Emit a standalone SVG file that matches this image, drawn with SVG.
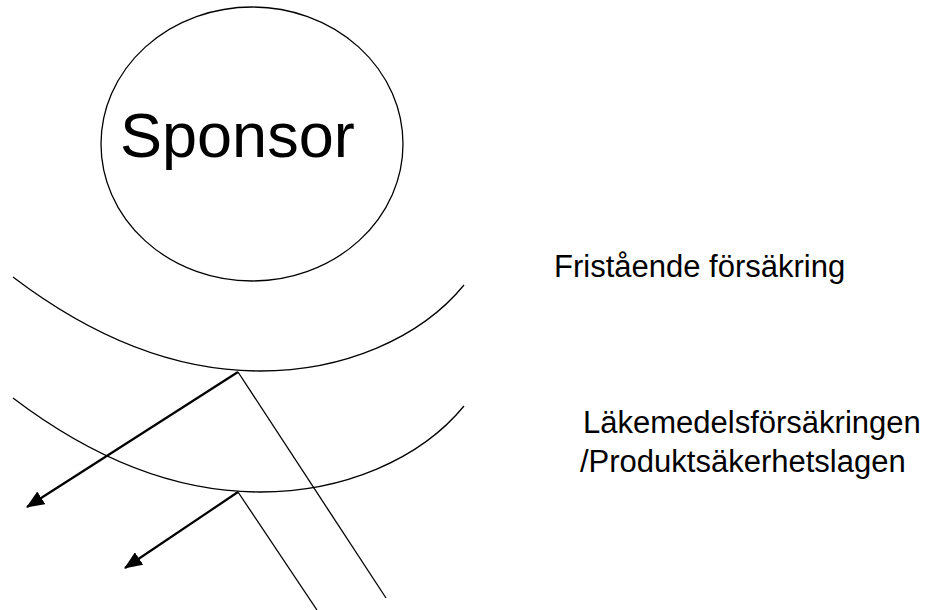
<svg xmlns="http://www.w3.org/2000/svg" width="932" height="610" viewBox="0 0 932 610">
<defs>
<style>
.ln{fill:none;stroke:#000;stroke-width:1.3}
.ar{fill:none;stroke:#000;stroke-width:2.2}
.t{font-family:"Liberation Sans",Arial,sans-serif;fill:#000}
</style>
<marker id="ah" viewBox="0 0 18 15" refX="17" refY="7.5" markerWidth="18" markerHeight="15" markerUnits="userSpaceOnUse" orient="auto">
<path d="M0,0 L18,7.5 L0,15 z" fill="#000"/>
</marker>
</defs>
<rect width="932" height="610" fill="#fff"/>
<g id="sponsor">
<ellipse cx="252" cy="144" rx="151" ry="137" class="ln"/>
<text x="120" y="157" class="t" font-size="63">Sponsor</text>
</g>
<g id="arc-fristaende">
<path d="M13,277 Q136.5,371 260,371 A240,182 0 0 0 464,285" class="ln"/>
</g>
<g id="arc-lakemedel">
<path d="M13,398 Q136.5,492 260,492 A240,182 0 0 0 464,406" class="ln"/>
</g>
<g id="label-fristaende">
<text x="554" y="277" class="t" font-size="31">Fristående försäkring</text>
</g>
<g id="label-lakemedel">
<text x="583" y="433" class="t" font-size="31">Läkemedelsförsäkringen</text>
<text x="580" y="472" class="t" font-size="31">/Produktsäkerhetslagen</text>
</g>
<g id="connectors">
<line x1="238" y1="372" x2="27" y2="507" class="ar" marker-end="url(#ah)"/>
<line x1="238" y1="372" x2="386" y2="598" class="ln"/>
<line x1="238" y1="492" x2="125" y2="568" class="ar" marker-end="url(#ah)"/>
<line x1="238" y1="492" x2="317" y2="610" class="ln"/>
</g>
</svg>
